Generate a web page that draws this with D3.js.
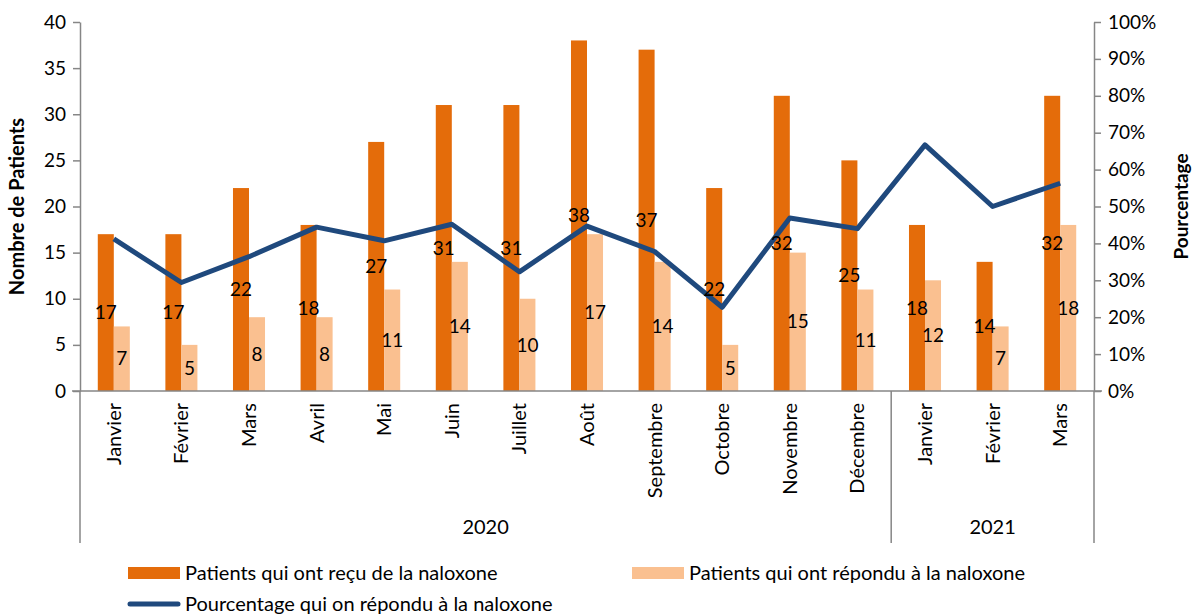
<!DOCTYPE html>
<meta charset="utf-8">
<style>
body { margin: 0; background: #fff; }
text { font-family: Lato, "Open Sans", sans-serif; fill: #000; }
.axis path, .axis line { stroke: #868686; stroke-width: 1.5px; }
.axis text { font-size: 19px; }
</style>
<body>
<script src="https://d3js.org/d3.v7.min.js"></script>
<script>

// data
var months = ["Janvier", "Février", "Mars", "Avril", "Mai", "Juin", "Juillet", "Août",
              "Septembre", "Octobre", "Novembre", "Décembre", "Janvier", "Février", "Mars"];
var years = [{label: "2020", first: 0, last: 11}, {label: "2021", first: 12, last: 14}];
var received = [17, 17, 22, 18, 27, 31, 31, 38, 37, 22, 32, 25, 18, 14, 32];
var responded = [7, 5, 8, 8, 11, 14, 10, 17, 14, 5, 15, 11, 12, 7, 18];
var percent = [41.2, 29.4, 36.4, 44.4, 40.7, 45.2, 32.3, 44.7, 37.8, 22.7, 46.9, 44.0, 66.7, 50.0, 56.3];

var cOrange = "#e46c0a", cLight = "#fac090", cLine = "#1f497d";

var W = 1194, H = 614;
var margin = {top: 22, left: 80, right: 100, bottom: 223};
var plotW = W - margin.left - margin.right,
    plotH = H - margin.top - margin.bottom;

var svg = d3.select("body").append("svg")
    .attr("width", W).attr("height", H);
var g = svg.append("g")
    .attr("transform", "translate(" + margin.left + "," + margin.top + ")");

var idx = d3.range(months.length);
var x = d3.scaleBand().domain(idx).range([0, plotW]);
var xs = d3.scaleBand().domain(["rec", "resp"]).range([0, x.bandwidth()]).paddingOuter(1.11);
var y = d3.scaleLinear().domain([0, 40]).range([plotH, 0]);
var yp = d3.scaleLinear().domain([0, 100]).range([plotH, 0]);

// axes
g.append("g").attr("class", "axis")
    .call(d3.axisLeft(y).ticks(8).tickSize(7).tickSizeOuter(0).tickPadding(7));
g.append("g").attr("class", "axis")
    .attr("transform", "translate(" + plotW + ",0)")
    .call(d3.axisRight(yp).ticks(10).tickSize(7).tickSizeOuter(0).tickPadding(7)
      .tickFormat(function(d) { return d + "%"; }));

// bars
g.selectAll(".rec").data(idx).enter().append("rect")
    .attr("x", function(i) { return x(i) + xs("rec"); })
    .attr("width", xs.bandwidth())
    .attr("y", function(i) { return y(received[i]); })
    .attr("height", function(i) { return plotH - y(received[i]); })
    .attr("fill", cOrange);
g.selectAll(".resp").data(idx).enter().append("rect")
    .attr("x", function(i) { return x(i) + xs("resp"); })
    .attr("width", xs.bandwidth())
    .attr("y", function(i) { return y(responded[i]); })
    .attr("height", function(i) { return plotH - y(responded[i]); })
    .attr("fill", cLight);

// category axis with year grouping
var xa = g.append("g").attr("class", "axis")
    .attr("transform", "translate(0," + plotH + ")");
xa.append("line").attr("x1", -8).attr("x2", plotW + 8);
[0, 12, 15].forEach(function(i) {
  var xx = i < months.length ? x(i) : plotW;
  xa.append("line").attr("x1", xx).attr("x2", xx).attr("y1", 0).attr("y2", 152);
});
xa.selectAll(".mlab").data(idx).enter().append("text")
    .attr("transform", function(i) {
      return "translate(" + (x(i) + x.bandwidth() / 2 + 7) + ",12) rotate(-90)";
    })
    .attr("text-anchor", "end")
    .style("font-size", "20px")
    .text(function(i) { return months[i]; });
xa.selectAll(".ylab").data(years).enter().append("text")
    .attr("x", function(d) { return (x(d.first) + x(d.last) + x.bandwidth()) / 2; })
    .attr("y", 143)
    .attr("text-anchor", "middle")
    .style("font-size", "20px")
    .text(function(d) { return d.label; });

// percentage line
var line = d3.line()
    .x(function(i) { return x(i) + x.bandwidth() / 2; })
    .y(function(i) { return yp(percent[i]); });
g.append("path").datum(idx)
    .attr("d", line)
    .attr("fill", "none")
    .attr("stroke", cLine)
    .attr("stroke-width", 5)
    .attr("stroke-linejoin", "round");

// value labels
g.selectAll(".lrec").data(idx).enter().append("text")
    .attr("x", function(i) { return x(i) + xs("rec") + xs.bandwidth() / 2; })
    .attr("y", function(i) { return y(received[i] / 2); })
    .attr("dy", "0.35em")
    .attr("text-anchor", "middle")
    .style("font-size", "19px")
    .text(function(i) { return received[i]; });
g.selectAll(".lresp").data(idx).enter().append("text")
    .attr("x", function(i) { return x(i) + xs("resp") + xs.bandwidth() / 2; })
    .attr("y", function(i) { return y(responded[i] / 2); })
    .attr("dy", "0.35em")
    .attr("text-anchor", "middle")
    .style("font-size", "19px")
    .text(function(i) { return responded[i]; });

// axis titles
svg.append("text")
    .attr("transform", "translate(24," + (margin.top + plotH / 2) + ") rotate(-90)")
    .attr("text-anchor", "middle")
    .style("font-size", "20px").style("font-weight", "bold")
    .text("Nombre de Patients");
svg.append("text")
    .attr("transform", "translate(1188," + (margin.top + plotH / 2) + ") rotate(-90)")
    .attr("text-anchor", "middle")
    .style("font-size", "19px").style("font-weight", "bold")
    .text("Pourcentage");

// legend
var legend = [
  {label: "Patients qui ont reçu de la naloxone", color: cOrange, type: "rect", x: 128, y: 573},
  {label: "Patients qui ont répondu à la naloxone", color: cLight, type: "rect", x: 632, y: 573},
  {label: "Pourcentage qui on répondu à la naloxone", color: cLine, type: "line", x: 128, y: 604}
];
var lg = svg.selectAll(".leg").data(legend).enter().append("g")
    .attr("transform", function(d) { return "translate(" + d.x + "," + d.y + ")"; });
lg.filter(function(d) { return d.type === "rect"; }).append("rect")
    .attr("x", 0).attr("y", -6).attr("width", 52).attr("height", 12)
    .attr("fill", function(d) { return d.color; });
lg.filter(function(d) { return d.type === "line"; }).append("line")
    .attr("x1", 2).attr("x2", 50)
    .attr("stroke", function(d) { return d.color; })
    .attr("stroke-width", 5).attr("stroke-linecap", "round");
lg.append("text")
    .attr("x", 57).attr("dy", "0.35em")
    .style("font-size", "20px")
    .text(function(d) { return d.label; });

</script>
</body>
